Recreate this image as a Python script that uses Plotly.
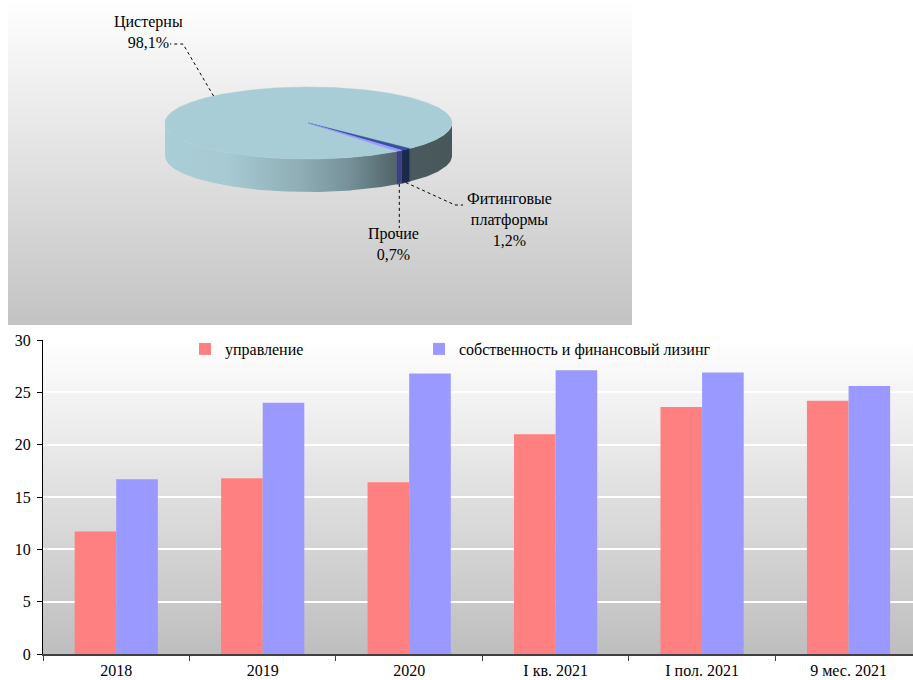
import base64
import numpy as np
import plotly.graph_objects as go

# ---------------- data ----------------
pie_labels = ["Цистерны", "Фитинговые<br>платформы", "Прочие"]
pie_values = [98.1, 1.2, 0.7]

categories = ["2018", "2019", "2020", "I кв. 2021", "I пол. 2021", "9 мес. 2021"]
upravlenie = [11.7, 16.8, 16.4, 21.0, 23.6, 24.2]
sobstvennost = [16.7, 24.0, 26.8, 27.1, 26.9, 25.6]
series_names = ["управление", "собственность и финансовый лизинг"]

# ---------------- style / layout ----------------
W, H = 913, 680
FONT = "Liberation Serif"
BAR_COLORS = ["#FF8080", "#9999FF"]

# pie geometry (pixel-like units on a hidden axis pair)
CX, CY, RX, RY, DEPTH = 308.5, 123.0, 143.5, 36.0, 33.0
FIRST_ANGLE = 142.0  # clockwise from 12 o'clock
TOP_COLORS = ["#A9CDD6", "#34509E", "#9999FF"]
SIDE_SOLID = [None, "#1B2A4A", "#3C3F80"]
SIDE_SCALE = [[0.0, "#AACED7"], [0.22, "#A6C9D2"], [0.47, "#8FAEB5"],
              [0.64, "#76919A"], [0.8, "#53666B"], [0.86, "#4A5A5E"], [1.0, "#485759"]]

# label placement (layout): annotation centre and leader elbows
LABEL_POS = [(148, 32), (509, 219), (393, 244)]
LEADER_ELBOWS = [[(183, 44), (170, 44)], [(455, 205), (463, 205)], [None]]
LEADER_ON_SIDE = [False, True, True]
LEGEND_X = [185, 419]


def vgrad(top, bottom):
    svg = ('<svg xmlns="http://www.w3.org/2000/svg" width="100" height="100" '
           'viewBox="0 0 100 100" preserveAspectRatio="none"><defs>'
           '<linearGradient id="g" x1="0" y1="0" x2="0" y2="1">'
           f'<stop offset="0" stop-color="{top}"/><stop offset="1" stop-color="{bottom}"/>'
           '</linearGradient></defs><rect width="100" height="100" fill="url(#g)"/></svg>')
    return "data:image/svg+xml;base64," + base64.b64encode(svg.encode()).decode()


def pt(theta_deg, dy=0.0):
    t = np.radians(theta_deg)
    return CX + RX * np.sin(t), CY - RY * np.cos(t) + dy


def arc(a, b, dy=0.0, n=None):
    if n is None:
        n = max(3, int(abs(b - a) * 2))
    ts = np.linspace(a, b, n)
    xs, ys = pt(ts, dy)
    return list(xs), list(ys)


fig = go.Figure()

# ---------------- 3D pie ----------------
total = sum(pie_values)
bounds = []
acc = FIRST_ANGLE
for v in pie_values:
    span = 360.0 * v / total
    bounds.append((acc, acc + span))
    acc += span

# side surfaces (front half only: 90..270 deg)
for i, (a, b) in enumerate(bounds):
    for off in (0.0, 360.0):
        lo, hi = max(a, 90 + off), min(b, 270 + off)
        if hi <= lo:
            continue
        tx, ty = arc(lo, hi)
        bx, by = arc(hi, lo, DEPTH)
        xs = tx + bx + [tx[0]]
        ys = ty + by + [ty[0]]
        kw = {}
        if SIDE_SOLID[i] is None:
            kw["fillgradient"] = dict(type="horizontal", colorscale=SIDE_SCALE,
                                      start=CX - RX, stop=CX + RX)
            lc = "rgba(0,0,0,0)"
        else:
            kw["fillcolor"] = SIDE_SOLID[i]
            lc = SIDE_SOLID[i]
        fig.add_trace(go.Scatter(x=xs, y=ys, mode="lines", fill="toself",
                                 line=dict(width=0.5, color=lc), xaxis="x2", yaxis="y2",
                                 hoverinfo="skip", showlegend=False, **kw))

# top faces
for i, (a, b) in enumerate(bounds):
    ax_, ay_ = arc(a, b)
    xs = [CX] + ax_ + [CX]
    ys = [CY] + ay_ + [CY]
    fig.add_trace(go.Scatter(x=xs, y=ys, mode="lines", fill="toself",
                             fillcolor=TOP_COLORS[i],
                             line=dict(width=0.5, color=TOP_COLORS[i]),
                             xaxis="x2", yaxis="y2", hoverinfo="skip", showlegend=False))

# leader lines and labels
annotations = []
for i, (a, b) in enumerate(bounds):
    mid = (a + b) / 2.0
    sx, sy = pt(mid, DEPTH if LEADER_ON_SIDE[i] else 0.0)
    xs, ys = [sx], [sy]
    for e in LEADER_ELBOWS[i]:
        if e is None:
            xs.append(sx)
            ys.append(LABEL_POS[i][1] - 16)
        else:
            xs.append(e[0])
            ys.append(e[1])
    fig.add_trace(go.Scatter(x=xs, y=ys, mode="lines",
                             line=dict(color="black", width=1, dash="dot"),
                             xaxis="x2", yaxis="y2", hoverinfo="skip", showlegend=False))
    txt = f"{pie_labels[i]}<br>{pie_values[i]:.1f}%".replace(".", ",")
    annotations.append(dict(x=LABEL_POS[i][0], y=LABEL_POS[i][1], xref="x2", yref="y2",
                            text=txt, showarrow=False, xanchor="center", yanchor="middle",
                            font=dict(family=FONT, size=16, color="black")))

# ---------------- bar chart ----------------
for k, (name, vals, col) in enumerate(zip(series_names, [upravlenie, sobstvennost], BAR_COLORS)):
    fig.add_trace(go.Bar(x=categories, y=vals, name=name,
                         marker=dict(color=col, line=dict(width=0)),
                         xaxis="x", yaxis="y", legend="legend" if k == 0 else "legend2"))

plot_left, plot_top, plot_bottom = 43, 340, 654
legend_common = dict(orientation="h", y=(H - 349) / H, xanchor="left", yanchor="middle",
                     bgcolor="rgba(0,0,0,0)", font=dict(family=FONT, size=16, color="black"),
                     itemwidth=30)
fig.update_layout(
    width=W, height=H,
    margin=dict(l=0, r=0, t=0, b=0),
    paper_bgcolor="white",
    plot_bgcolor="rgba(0,0,0,0)",
    font=dict(family=FONT, size=16, color="black"),
    barmode="group", bargap=0.432, bargroupgap=0,
    xaxis=dict(domain=[plot_left / W, 1], anchor="y", type="category",
               range=[-0.5, 5.44], showline=True, linecolor="#404040", linewidth=2,
               ticks="outside", ticklen=5, tickcolor="#404040", tickson="boundaries",
               showgrid=False, tickfont=dict(family=FONT, size=16, color="black"),
               ticklabelstandoff=1, automargin=False),
    yaxis=dict(domain=[(H - plot_bottom) / H, (H - plot_top) / H], anchor="x",
               range=[0, 30], dtick=5, showline=True, linecolor="black", linewidth=1,
               ticks="outside", ticklen=5, tickcolor="black", showgrid=True,
               gridcolor="white", gridwidth=1.5, zeroline=False,
               tickfont=dict(family=FONT, size=16, color="black"),
               ticklabelstandoff=3, automargin=False),
    xaxis2=dict(domain=[8 / W, 632 / W], anchor="y2", range=[8, 632], visible=False,
                fixedrange=True),
    yaxis2=dict(domain=[(H - 325) / H, 1], anchor="x2", range=[325, 0], visible=False,
                fixedrange=True),
    legend=dict(x=LEGEND_X[0] / W, **legend_common),
    legend2=dict(x=LEGEND_X[1] / W, **legend_common),
    annotations=annotations,
    images=[
        dict(source=vgrad("#FFFFFF", "#C3C3C3"), xref="paper", yref="paper",
             x=8 / W, y=1, sizex=624 / W, sizey=325 / H, xanchor="left", yanchor="top",
             sizing="stretch", layer="below"),
        dict(source=vgrad("#FFFFFF", "#BEBEBE"), xref="paper", yref="paper",
             x=plot_left / W, y=(H - plot_top) / H, sizex=(W - plot_left) / W,
             sizey=(plot_bottom - plot_top) / H, xanchor="left", yanchor="top",
             sizing="stretch", layer="below"),
    ],
)

fig.write_html("out.html", config={"displayModeBar": False},
               post_script="document.body.style.margin='0';")
